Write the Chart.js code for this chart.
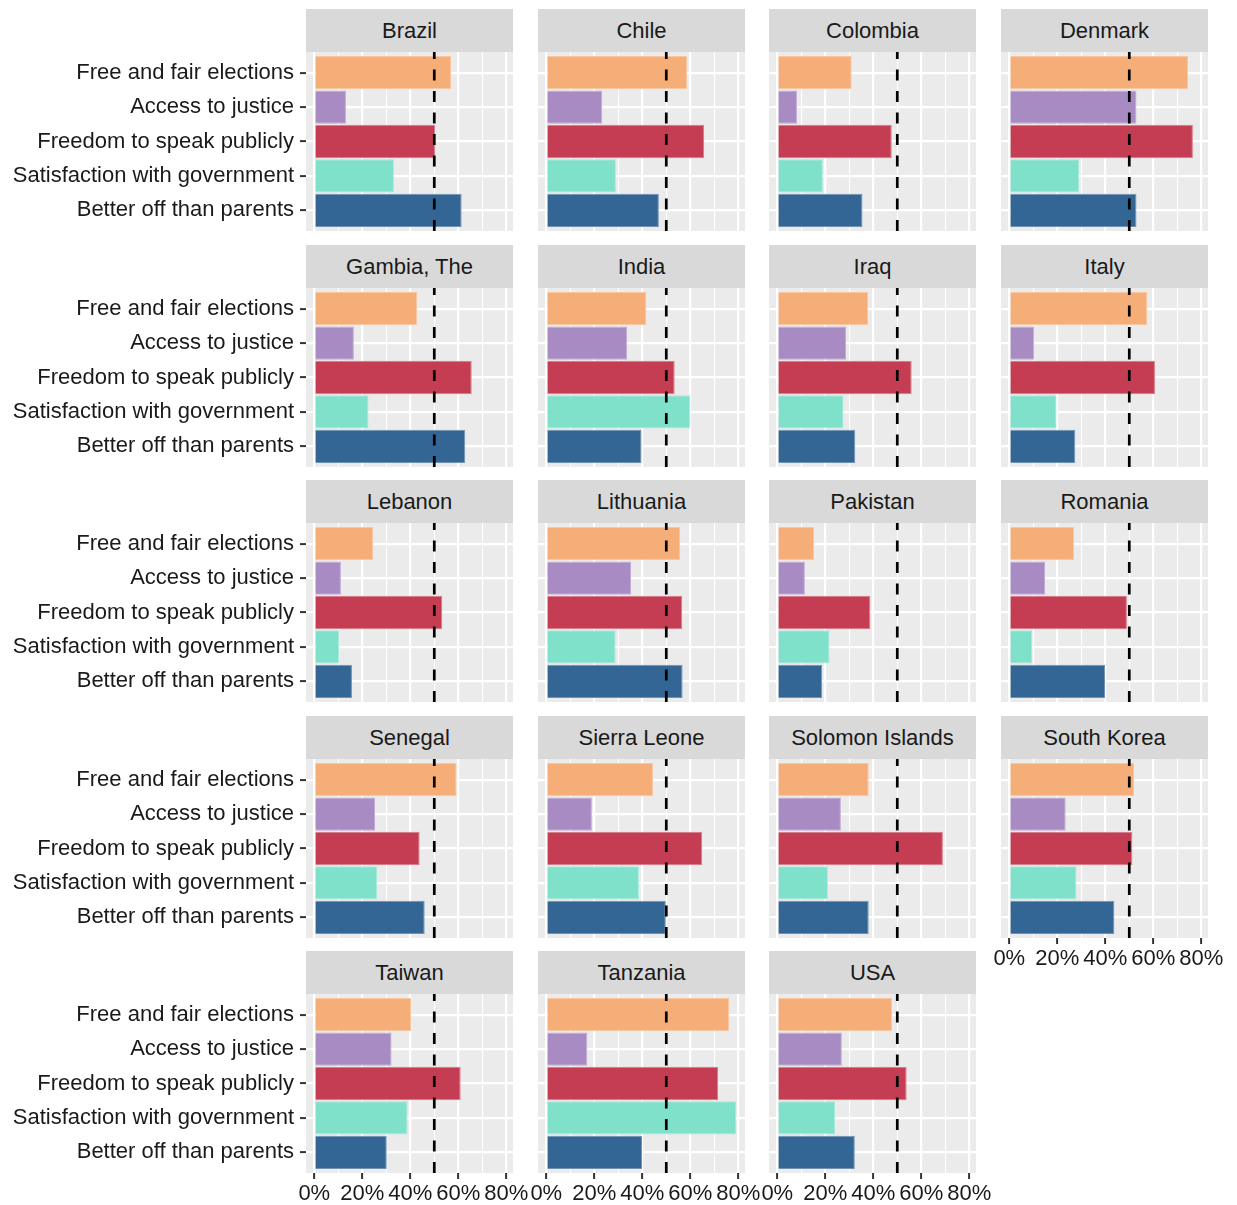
<!DOCTYPE html>
<html>
<head>
<meta charset="utf-8">
<script src="https://cdn.jsdelivr.net/npm/chart.js@4.4.1/dist/chart.umd.min.js"></script>
<style>
  body { margin: 0; background: #fff; }
  #wrap { position: relative; width: 1237px; height: 1205px; overflow: hidden;
          font-family: "Liberation Sans", Arial, Helvetica, sans-serif; }
  .strip { position: absolute; background: #d9d9d9; color: #1a1a1a; font-size: 22px;
           text-align: center; white-space: nowrap; }
  canvas { position: absolute; }
</style>
</head>
<body>
<div id="wrap"></div>
<script>
// Facets, in reading order
const countries = ['Brazil', 'Chile', 'Colombia', 'Denmark',
                   'Gambia, The', 'India', 'Iraq', 'Italy',
                   'Lebanon', 'Lithuania', 'Pakistan', 'Romania',
                   'Senegal', 'Sierra Leone', 'Solomon Islands', 'South Korea',
                   'Taiwan', 'Tanzania', 'USA'];

// Bars, top to bottom in every panel
const measures = ['Free and fair elections', 'Access to justice', 'Freedom to speak publicly',
                  'Satisfaction with government', 'Better off than parents'];

// Share of respondents (%), one value per country
const freeElections = [57.0, 58.7, 31.0, 74.5, 42.9, 41.7, 37.9, 57.5, 24.5, 55.8,
                       15.3, 27.0, 59.3, 44.5, 38.1, 52.0, 40.3, 76.2, 47.8];
const accessJustice = [13.2, 23.3, 8.2, 53.0, 16.5, 33.7, 28.7, 10.4, 11.1, 35.3,
                       11.5, 14.9, 25.3, 19.0, 26.5, 23.5, 32.2, 17.1, 26.9];
const freeSpeech    = [50.4, 65.8, 47.7, 76.5, 65.6, 53.5, 56.0, 60.7, 53.3, 56.6,
                       38.8, 49.0, 43.9, 64.9, 69.0, 51.3, 61.0, 71.6, 53.9];
const satisfaction  = [33.2, 29.0, 19.0, 29.1, 22.6, 60.0, 27.6, 19.7, 10.4, 28.9,
                       21.8, 9.5, 26.2, 38.6, 21.1, 28.0, 38.9, 79.2, 24.1];
const betterOff     = [61.4, 46.9, 35.5, 53.0, 62.9, 39.7, 32.5, 27.5, 15.7, 56.8,
                       18.7, 39.9, 46.0, 49.8, 38.1, 43.8, 30.2, 39.9, 32.3];

const xTicks = [0, 10, 20, 30, 40, 50, 60, 70, 80];
const threshold = 50;

const barColors  = ['#f6ae78', '#a98bc3', '#c43d52', '#80e1cb', '#336694'];
const barBorders = ['#f9c6a0', '#c2aad6', '#d77a88', '#a6eadb', '#7093b5'];

const FONT = '"Liberation Sans", Arial, Helvetica, sans-serif';
const PAD = 24;           // room for overflowing x labels
const VPAD = 24;          // room for y label padding above/below
const PANEL_W = 207;
const PANEL_H = 179;
const STRIP_H = 43;
const X_AXIS_H = 40;
const colLeft = [306, 538, 769, 1001];
const rowTop = [9, 245, 480, 716, 951];

// grey panel background
const panelBg = {
  id: 'panelBg',
  beforeDraw(chart) {
    const a = chart.chartArea;
    const ctx = chart.ctx;
    ctx.save();
    ctx.fillStyle = '#ebebeb';
    ctx.fillRect(a.left, a.top, a.right - a.left, a.bottom - a.top);
    ctx.restore();
  }
};

// dashed reference line at 50%, drawn bottom-up like ggplot
const refLine = {
  id: 'refLine',
  afterDatasetsDraw(chart) {
    const a = chart.chartArea;
    const ctx = chart.ctx;
    const x = chart.scales.x.getPixelForValue(threshold);
    ctx.save();
    ctx.strokeStyle = '#000';
    ctx.lineWidth = 2.7;
    ctx.setLineDash([11, 10.5]);
    ctx.beginPath();
    ctx.moveTo(x, a.bottom);
    ctx.lineTo(x, a.top);
    ctx.stroke();
    ctx.restore();
  }
};

const wrap = document.getElementById('wrap');

countries.forEach(function (name, idx) {
  const col = idx % 4;
  const row = Math.floor(idx / 4);
  const showY = col === 0;
  const showX = idx + 4 >= countries.length;
  const panelLeft = colLeft[col];
  const panelTop = rowTop[row] + STRIP_H;

  const strip = document.createElement('div');
  strip.className = 'strip';
  strip.style.left = panelLeft + 'px';
  strip.style.top = rowTop[row] + 'px';
  strip.style.width = PANEL_W + 'px';
  strip.style.height = STRIP_H + 'px';
  strip.style.lineHeight = STRIP_H + 'px';
  strip.textContent = name;
  wrap.appendChild(strip);

  const leftExtra = showY ? panelLeft : PAD;
  const xh = showX ? X_AXIS_H : 0;
  const w = leftExtra + PANEL_W + PAD;
  const h = VPAD + PANEL_H + xh + VPAD;
  const canvas = document.createElement('canvas');
  canvas.width = w;
  canvas.height = h;
  canvas.style.width = w + 'px';
  canvas.style.height = h + 'px';
  canvas.style.left = (panelLeft - leftExtra) + 'px';
  canvas.style.top = (panelTop - VPAD) + 'px';
  wrap.appendChild(canvas);

  const values = [freeElections[idx], accessJustice[idx], freeSpeech[idx],
                  satisfaction[idx], betterOff[idx]];

  new Chart(canvas, {
    type: 'bar',
    data: {
      datasets: [{
        data: values.map((v, i) => ({ x: v, y: i })),
        backgroundColor: barColors,
        borderColor: barBorders,
        borderWidth: 1,
        categoryPercentage: 1,
        barPercentage: 0.97
      }]
    },
    options: {
      indexAxis: 'y',
      responsive: false,
      animation: false,
      events: [],
      layout: { padding: { left: showY ? 0 : PAD, right: PAD, top: VPAD, bottom: VPAD } },
      plugins: { legend: { display: false }, tooltip: { enabled: false } },
      scales: {
        x: {
          type: 'linear',
          min: -3.45,
          max: 82.8,
          offset: false,
          afterBuildTicks: s => { s.ticks = xTicks.map(v => ({ value: v })); },
          afterFit: s => { s.height = xh; },
          border: { display: false },
          grid: {
            offset: false,
            color: '#ffffff',
            lineWidth: c => (c.tick && c.tick.value % 20 === 0) ? 2.2 : 1.1,
            drawTicks: showX,
            tickLength: 6,
            tickWidth: 2,
            tickColor: c => (c.tick && c.tick.value % 20 === 0) ? '#333333' : 'rgba(0,0,0,0)'
          },
          ticks: {
            display: showX,
            padding: 2,
            maxRotation: 0,
            autoSkip: false,
            color: '#1a1a1a',
            font: { size: 22, family: FONT },
            callback: v => v % 20 === 0 ? v + '%' : ''
          }
        },
        y: {
          type: 'linear',
          reverse: true,
          min: -0.6,
          max: 4.6,
          offset: false,
          afterBuildTicks: s => { s.ticks = measures.map((m, i) => ({ value: i })); },
          afterFit: s => { s.width = showY ? panelLeft : 0; },
          border: { display: false },
          grid: {
            offset: false,
            color: '#ffffff',
            lineWidth: 2.2,
            drawTicks: showY,
            tickLength: 6,
            tickWidth: 2,
            tickColor: '#333333'
          },
          ticks: {
            display: showY,
            padding: 6,
            autoSkip: false,
            color: '#1a1a1a',
            font: { size: 22, family: FONT },
            callback: v => measures[v]
          }
        }
      }
    },
    plugins: [panelBg, refLine]
  });
});
</script>
</body>
</html>
